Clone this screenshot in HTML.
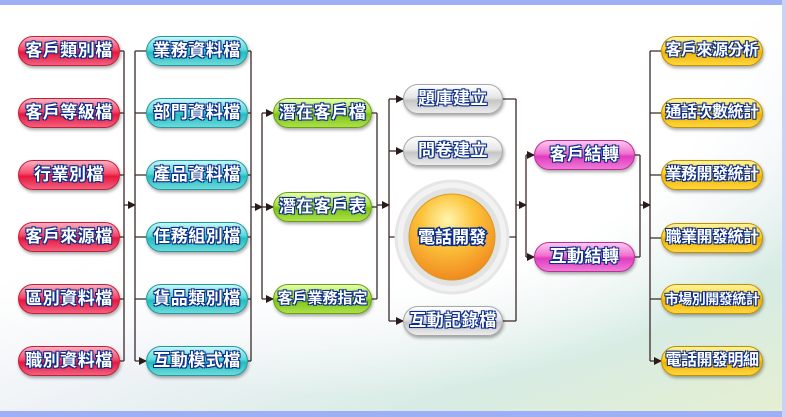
<!DOCTYPE html>
<html><head><meta charset="utf-8"><style>
html,body{margin:0;padding:0}
body{width:785px;height:417px;position:relative;overflow:hidden;background:#fff;font-family:"Liberation Sans","Noto Sans CJK TC",sans-serif}
.bg{position:absolute;left:0;top:0;width:785px;height:417px;background:
radial-gradient(ellipse 700px 420px at 330px 60px,#fff 0,#fff 55%,rgba(255,255,255,0) 80%),
linear-gradient(160deg,#fff 40%,#eef2f6 60%,#d7ece4 80%,#e6efd0 100%);}
.topb{position:absolute;left:0;top:0;width:785px;height:5px;background:#9db0f7}
.botb{position:absolute;left:0;top:411px;width:785px;height:6px;background:#9db0f7}
.rb{position:absolute;left:782px;top:0;width:3px;height:417px;background:#c9d4f5}
.p{position:absolute;height:28px;border-radius:15px;text-align:center;line-height:28px;font-size:17px;font-weight:bold;color:#fff;letter-spacing:0.5px;white-space:nowrap;
text-shadow:0 0 2px #0a2c8a,1px 1px 0 #0a2c8a,-1px -1px 0 #0a2c8a,1px -1px 0 #0a2c8a,-1px 1px 0 #0a2c8a;box-shadow:1px 2px 3px rgba(0,0,0,.35)}
.r{background:linear-gradient(#ffb0c0,#f54868 45%,#e8173c 55%,#f26080);border:1px solid #c0203a}
.c{background:linear-gradient(#c8f6f6,#5ad8d8 45%,#21bdc0 55%,#6fdada);border:1px solid #209aa0}
.g{background:linear-gradient(#e6ffb0,#a6dc3c 45%,#7cc414 55%,#ace04a);border:1px solid #6aa010}
.s{background:linear-gradient(#ffffff,#e6e6e6 45%,#c6c6c6 55%,#ececec);border:1px solid #a8a8a8}
.m{background:linear-gradient(#ffc8f0,#f070d0 45%,#e03cc0 55%,#f07ad6);border:1px solid #b83098}
.y{background:linear-gradient(#fff3a0,#ffd21c 45%,#f0b400 55%,#ffd640);border:1px solid #c09000;letter-spacing:-0.5px;font-size:16px}
</style></head><body>
<div class="bg"></div>
<div class="topb"></div><div class="botb"></div><div class="rb"></div>
<svg width="785" height="417" style="position:absolute;left:0;top:0">
<defs><marker id="a" markerWidth="8" markerHeight="8" refX="7" refY="4" orient="auto" markerUnits="userSpaceOnUse"><path d="M0,0 L8,4 L0,8z" fill="#2a1a1a"/></marker></defs>
<g stroke="#3a2a2a" stroke-width="1.3" fill="none">
<path d="M120,51H124M120,113H124M120,175H124M120,237H124M120,299H124M120,361H124M124,51V361"/>
<path d="M124,205H135" marker-end="url(#a)"/>
<path d="M135,51V361"/>
<path d="M135,51H146M135,113H146M135,175H146M135,237H146M135,299H146M135,361H146" marker-end="url(#a)"/>
<path d="M248,51H251M248,113H251M248,175H251M248,237H251M248,299H251M248,361H251M251,51V361"/>
<path d="M251,207H262" marker-end="url(#a)"/>
<path d="M262,113V299"/>
<path d="M262,113H273" marker-end="url(#a)"/><path d="M262,207H273" marker-end="url(#a)"/><path d="M262,299H273" marker-end="url(#a)"/>
<path d="M372,113H377M372,207H377M372,299H377M377,113V299"/>
<path d="M377,205H389" marker-end="url(#a)"/>
<path d="M389,99V321"/>
<path d="M389,99H403" marker-end="url(#a)"/><path d="M389,151H403" marker-end="url(#a)"/><path d="M389,237H409" marker-end="url(#a)"/><path d="M389,321H403" marker-end="url(#a)"/>
<path d="M503,99H516M503,321H516M496,237H516M516,99V321"/>
<path d="M516,205H526" marker-end="url(#a)"/>
<path d="M526,155V257"/>
<path d="M526,155H534" marker-end="url(#a)"/><path d="M526,257H534" marker-end="url(#a)"/>
<path d="M635,155H640M635,257H640M640,155V257"/>
<path d="M640,205H650" marker-end="url(#a)"/>
<path d="M650,51V361"/>
<path d="M650,51H661M650,113H661M650,175H661M650,238H661M650,299H661M650,361H661" marker-end="url(#a)"/>
</g>
<circle cx="452" cy="237" r="56" fill="#f2f2f2" stroke="#e6e6e6" stroke-width="3"/>
<circle cx="452" cy="237" r="49" fill="#e2e2e2"/>
<defs><radialGradient id="o" cx="45%" cy="30%" r="70%"><stop offset="0" stop-color="#fff6b0"/><stop offset=".45" stop-color="#fcc33a"/><stop offset="1" stop-color="#f08a20"/></radialGradient></defs>
<circle cx="452" cy="237" r="43" fill="url(#o)" stroke="#d89a20"/>
<text x="452" y="243" text-anchor="middle" font-size="17" font-weight="bold" fill="#fff" stroke="#0a2c8a" stroke-width="3" paint-order="stroke" font-family="Liberation Sans,Noto Sans CJK TC,sans-serif">電話開發</text>
</svg>
<div class="p r" style="left:18px;top:36px;width:100px">客戶類別檔</div>
<div class="p r" style="left:18px;top:98px;width:100px">客戶等級檔</div>
<div class="p r" style="left:18px;top:160px;width:100px">行業別檔</div>
<div class="p r" style="left:18px;top:222px;width:100px">客戶來源檔</div>
<div class="p r" style="left:18px;top:284px;width:100px">區別資料檔</div>
<div class="p r" style="left:18px;top:346px;width:100px">職別資料檔</div>
<div class="p c" style="left:146px;top:36px;width:100px">業務資料檔</div>
<div class="p c" style="left:146px;top:98px;width:100px">部門資料檔</div>
<div class="p c" style="left:146px;top:160px;width:100px">產品資料檔</div>
<div class="p c" style="left:146px;top:222px;width:100px">任務組別檔</div>
<div class="p c" style="left:146px;top:284px;width:100px">貨品類別檔</div>
<div class="p c" style="left:146px;top:346px;width:100px">互動模式檔</div>
<div class="p g" style="left:273px;top:98px;width:97px">潛在客戶檔</div>
<div class="p g" style="left:273px;top:192px;width:97px">潛在客戶表</div>
<div class="p g" style="left:273px;top:284px;width:97px;font-size:15px;letter-spacing:0">客戶業務指定</div>
<div class="p s" style="left:403px;top:84px;width:98px">題庫建立</div>
<div class="p s" style="left:403px;top:136px;width:98px">問卷建立</div>
<div class="p s" style="left:403px;top:306px;width:98px">互動記錄檔</div>
<div class="p m" style="left:534px;top:140px;width:99px">客戶結轉</div>
<div class="p m" style="left:534px;top:242px;width:99px">互動結轉</div>
<div class="p y" style="left:661px;top:36px;width:100px">客戶來源分析</div>
<div class="p y" style="left:661px;top:98px;width:100px">通話次數統計</div>
<div class="p y" style="left:661px;top:160px;width:100px">業務開發統計</div>
<div class="p y" style="left:661px;top:223px;width:100px">職業開發統計</div>
<div class="p y" style="left:661px;top:284px;width:100px;font-size:14px;letter-spacing:-0.5px">市場別開發統計</div>
<div class="p y" style="left:661px;top:346px;width:100px">電話開發明細</div>
</body></html>
